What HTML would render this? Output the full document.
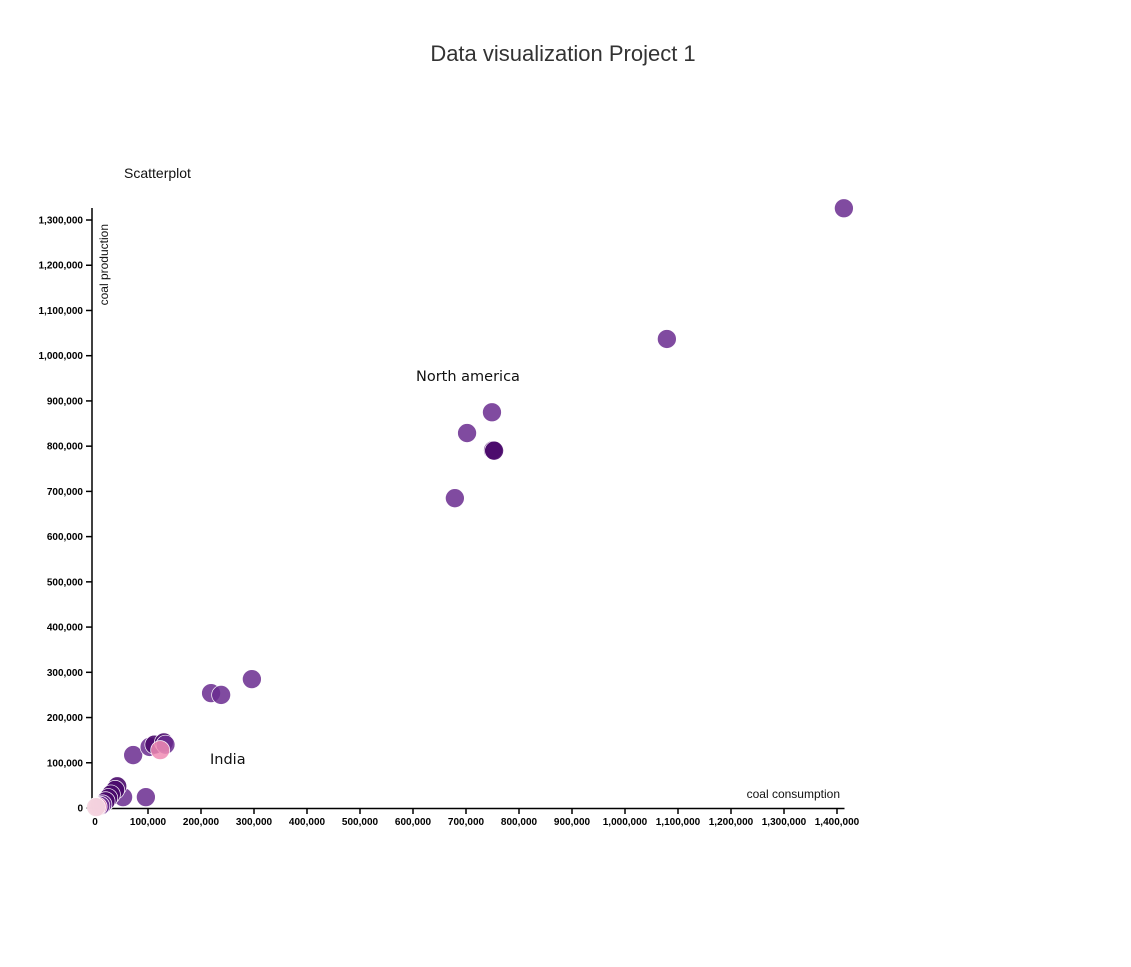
<!DOCTYPE html>
<html><head><meta charset="utf-8"><style>
body{margin:0;background:#fff;width:1131px;height:962px;overflow:hidden;font-family:"Liberation Sans",sans-serif}
</style></head><body>
<svg width="1131" height="962">
<text x="563" y="61" text-anchor="middle" font-size="22" fill="#333">Data visualization Project 1</text>
<text x="124" y="178" font-size="14" fill="#111">Scatterplot</text>
<g id="axes"></g>
<g id="dots"></g>
<text x="416" y="381" font-size="14.5" font-family="DejaVu Sans, sans-serif" fill="#111">North america</text>
<text x="210" y="764" font-size="14.5" font-family="DejaVu Sans, sans-serif" fill="#111">India</text>
<text x="840" y="798" font-size="12" text-anchor="end" fill="#111">coal consumption</text>
<text transform="translate(108,224) rotate(-90)" font-size="12" text-anchor="end" fill="#111">coal production</text>
</svg>
<script>
const consumption=[1413000,1079000,749000,702000,751000,753000,679000,296000,219000,238000,72000,103000,112000,130000,133000,123000,96000,53000,42000,38000,30000,25000,20000,14000,10000,5000,2000];
const production=[1326000,1037000,875000,829000,791000,790000,685000,285000,254000,250000,117000,135000,140000,145000,140000,128000,24000,24000,48000,40000,30000,22000,15000,8000,5000,3000,2000];
const colors=["m","m","m","m","d","d","m","m","m","m","m","m","d","d","m","p","m","m","d","d","d","d","d","m","m","p","l"];
const xTicks=[0,100000,200000,300000,400000,500000,600000,700000,800000,900000,1000000,1100000,1200000,1300000,1400000];
const yTicks=[0,100000,200000,300000,400000,500000,600000,700000,800000,900000,1000000,1100000,1200000,1300000];
const NS="http://www.w3.org/2000/svg";
const x=v=>95+v/100000*53;
const y=v=>808-v/100000*45.23;
const fill={m:"rgba(106,44,143,0.85)",d:"rgba(74,10,107,0.9)",p:"rgba(240,140,180,0.85)",l:"rgba(244,214,224,0.95)"};
function mk(t,a,p){const e=document.createElementNS(NS,t);for(const k in a)e.setAttribute(k,a[k]);p.appendChild(e);return e;}
const ax=document.getElementById('axes');
const xl=mk('path',{d:"M92,808.5H844.5",stroke:"#000","stroke-width":"1.5",fill:"none"},ax);


const yl=mk('path',{d:"M92,208V808",stroke:"#000","stroke-width":"1.5",fill:"none"},ax);


xTicks.forEach(t=>{
 mk('line',{x1:x(t),x2:x(t),y1:808,y2:814,stroke:"#000","stroke-width":"1.5"},ax);
 const tx=mk('text',{x:x(t),y:825,"text-anchor":"middle","font-size":"10","font-weight":"bold",fill:"#000"},ax);
 tx.textContent=t.toLocaleString('en-US');
 
 
});
yTicks.forEach(t=>{
 mk('line',{x1:86,x2:92,y1:y(t),y2:y(t),stroke:"#000","stroke-width":"1.5"},ax);
 const tx=mk('text',{x:83,y:y(t)+3.5,"text-anchor":"end","font-size":"10","font-weight":"bold",fill:"#000"},ax);
 tx.textContent=t.toLocaleString('en-US');
 
 
});
const dg=document.getElementById('dots');
consumption.forEach((c,i)=>{
 const e=mk('circle',{cx:x(c),cy:y(production[i]),r:9.5,fill:fill[colors[i]],stroke:"#fff","stroke-width":"0.7"},dg);
 
 
});
</script>
</body></html>
